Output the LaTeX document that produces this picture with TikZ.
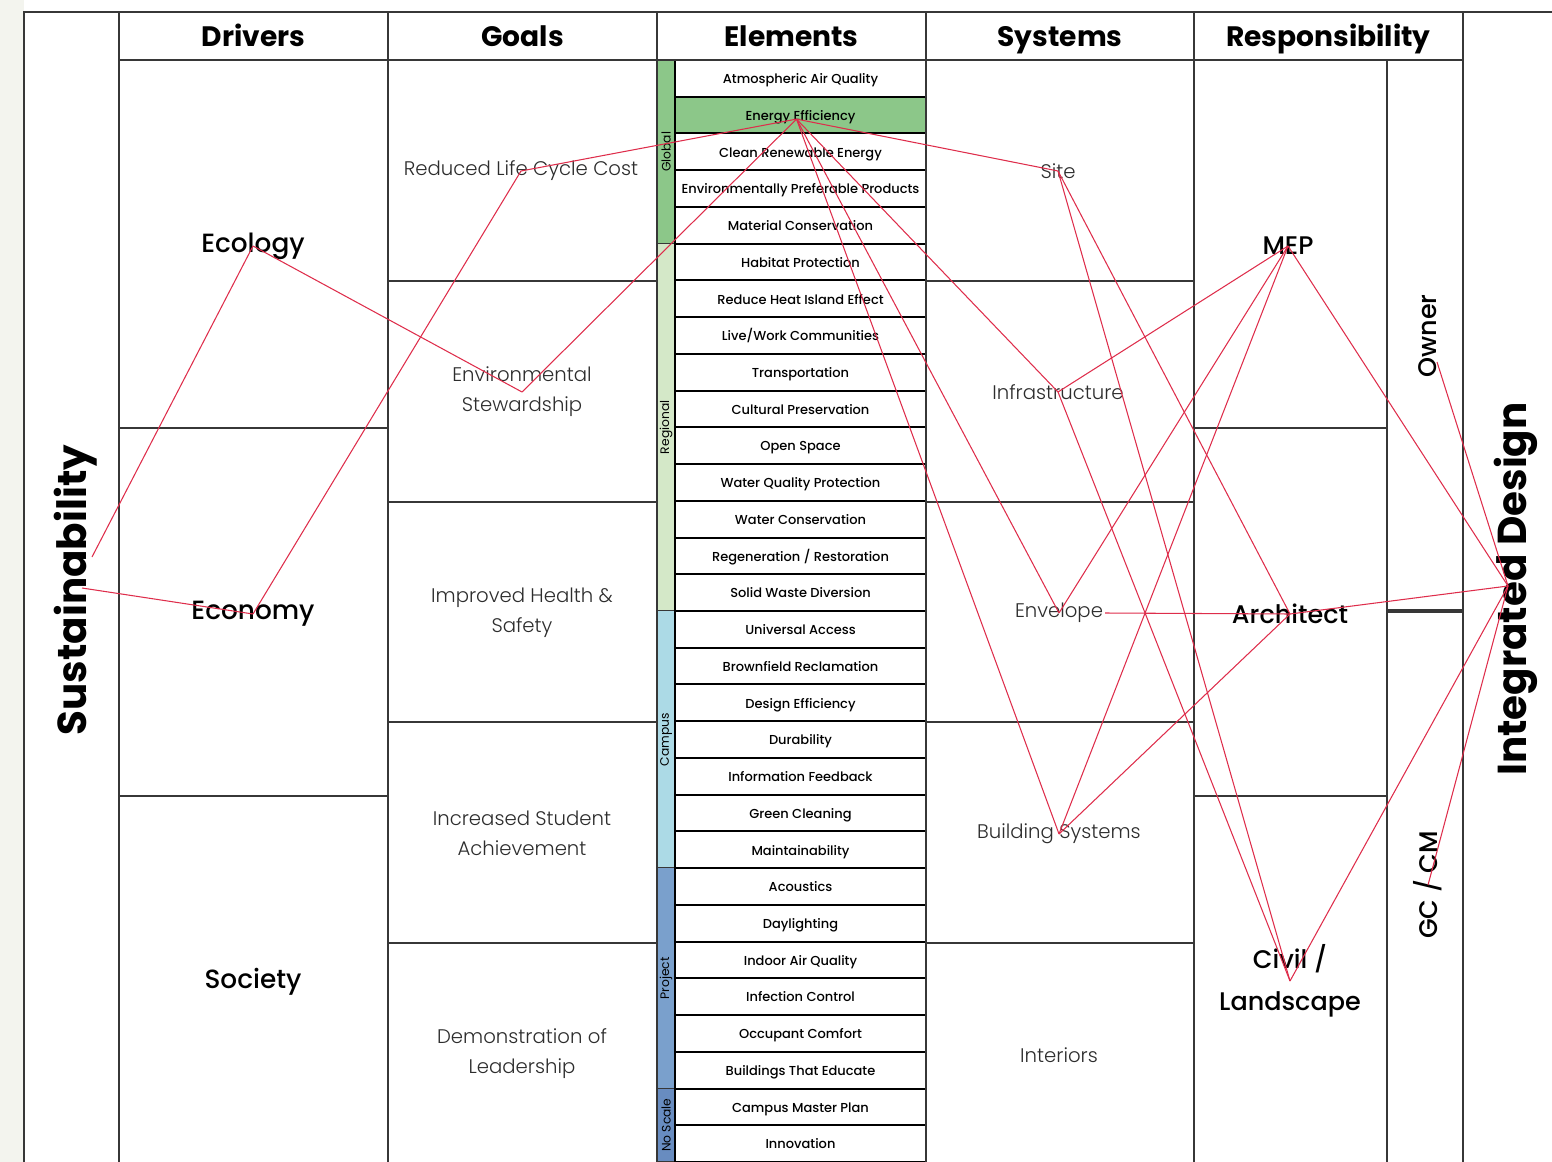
\documentclass[tikz,border=0pt]{standalone}
\usepackage{fontspec}
\setmainfont{Poppins}
\newfontfamily\lightfont{Poppins Light}
\newfontfamily\medfont{Poppins Medium}
\usetikzlibrary{calc}
\definecolor{linkred}{RGB}{222,45,75}
\definecolor{scaleglobal}{RGB}{140,199,137}
\definecolor{scaleregional}{RGB}{212,232,200}
\definecolor{scalecampus}{RGB}{172,218,230}
\definecolor{scaleproject}{RGB}{122,160,204}
\definecolor{scalenone}{RGB}{104,140,192}
\definecolor{gridgray}{RGB}{55,55,55}
\definecolor{margin}{RGB}{243,244,238}
\definecolor{softtext}{RGB}{45,45,45}

\begin{document}
\begin{tikzpicture}[x=0.02cm, y=-0.02cm,
    frame/.style={draw=gridgray, line width=0.9pt},
    header/.style={font=\fontsize{16}{18}\selectfont\bfseries, inner sep=0pt, anchor=base},
    driver/.style={font=\medfont\fontsize{15}{18}\selectfont, inner sep=1pt},
    goal/.style={font=\lightfont\fontsize{11.2}{17}\selectfont, align=center, text=softtext, inner sep=1pt},
    role/.style={font=\medfont\fontsize{14.5}{24}\selectfont, align=center, inner sep=1pt},
    cell/.style={draw, line width=1.1pt, minimum width=5.02cm, minimum height=0.7346cm, inner sep=0pt,
      text height=1.55ex, text depth=0.45ex, font=\medfont\fontsize{7.4}{9}\selectfont},
    band/.style={rotate=90, font=\fontsize{7}{8}\selectfont, inner sep=0pt},
    title/.style={rotate=90, font=\fontsize{23}{26}\selectfont\bfseries, inner sep=0pt},
    link/.style={linkred, line width=0.6pt}]

  \useasboundingbox (0,0) rectangle (1552,1162);
  \fill[margin] (0,0) rectangle (24,1162);

  % Scale bands beside the elements
  \foreach \c/\a/\b/\t/\n in {scaleglobal/0/5/Global/bGlobal, scaleregional/5/15/Regional/bRegional,
      scalecampus/15/22/Campus/bCampus, scaleproject/22/28/Project/bProject, scalenone/28/30/No Scale/bNone}{
    \fill[\c] (657,{60+36.733*\a}) rectangle (675,{60+36.733*\b});
    \draw[frame] (657,{60+36.733*\b}) -- (675,{60+36.733*\b});
    \node[band] (\n) at (666,{60+36.733*(\a+\b)/2}) {\t};
  }

  % Element cells (Energy Efficiency highlighted)
  \fill[scaleglobal] (675,96.7) rectangle (926,133.5);
  \foreach \t [count=\i from 0] in {Atmospheric Air Quality, Energy Efficiency, Clean Renewable Energy,
      Environmentally Preferable Products, Material Conservation, Habitat Protection,
      Reduce Heat Island Effect, Live/Work Communities, Transportation, Cultural Preservation,
      Open Space, Water Quality Protection, Water Conservation, Regeneration / Restoration,
      Solid Waste Diversion, Universal Access, Brownfield Reclamation, Design Efficiency,
      Durability, Information Feedback, Green Cleaning, Maintainability, Acoustics, Daylighting,
      Indoor Air Quality, Infection Control, Occupant Comfort, Buildings That Educate,
      Campus Master Plan, Innovation}{
    \node[cell] (el\i) at (800.5,{60+36.733*(\i+0.5)}) {\t};
  }

  % Grid
  \draw[frame] (24,1162) -- (24,12) -- (1552,12);
  \foreach \x in {119,388,657,926,1194,1463}
    \draw[frame] (\x,12) -- (\x,1162);
  \draw[frame] (119,60) -- (1463,60);
  \draw[frame] (1387,60) -- (1387,1162);
  \foreach \y in {428,796}{
    \draw[frame] (119,\y) -- (388,\y);
    \draw[frame] (1194,\y) -- (1387,\y);
  }
  \foreach \y in {281,502,722,943}{
    \draw[frame] (388,\y) -- (657,\y);
    \draw[frame] (926,\y) -- (1194,\y);
  }
  \draw[frame, line width=1.8pt] (1387,611) -- (1463,611);

  % Headers
  \foreach \t/\x/\n in {Drivers/253.5/hDrivers, Goals/522.5/hGoals, Elements/791.5/hElements,
      Systems/1060/hSystems, Responsibility/1328.5/hResp}
    \node[header] (\n) at (\x,47) {\t};

  % Side titles
  \node[title] (sus) at (76,590) {Sustainability};
  \node[title] (intd) at (1516,589) {Integrated Design};

  % Drivers
  \node[driver] (eco) at (253,246) {Ecology};
  \node[driver] (econ) at (253,614) {Economy};
  \node[driver] (soc) at (253,982) {Society};

  % Goals
  \node[goal] (gLcc) at (521,171) {Reduced Life Cycle Cost};
  \node[goal] (gEnv) at (522,392) {Environmental\\Stewardship};
  \node[goal] (gHealth) at (522,613) {Improved Health \&\\Safety};
  \node[goal] (gStudent) at (522,833) {Increased Student\\Achievement};
  \node[goal] (gLead) at (522,1054) {Demonstration of\\Leadership};

  % Systems
  \node[goal] (sSite) at (1058,171) {Site};
  \node[goal] (sInfra) at (1058,392) {Infrastructure};
  \node[goal] (sEnvl) at (1059,613) {Envelope};
  \node[goal] (sBldg) at (1059,834) {Building Systems};
  \node[goal] (sInt) at (1059,1055) {Interiors};

  % Responsibility
  \node[role] (rMep) at (1288,246) {MEP};
  \node[role] (rArch) at (1290,614) {Architect};
  \node[role] (rCivil) at (1290,981) {Civil /\\Landscape};
  \node[role, rotate=90] (rOwner) at (1428,336) {Owner};
  \node[role, rotate=90] (rGc) at (1428,885) {GC / CM};

  % Link ends off the node centres
  \coordinate (sus1) at ($(sus.center)+(16,-33)$);
  \coordinate (sus2) at ($(sus.center)+(6,-2)$);
  \coordinate (hub) at ($(el1.center)+(-4,4)$);
  \coordinate (envR) at (sEnvl.east);
  \coordinate (own1) at ($(rOwner.center)+(9,26)$);
  \coordinate (idp) at ($(intd.center)+(-8,-3)$);

  % Red links
  \foreach \a/\b in {sus1/eco, sus2/econ, eco/gEnv, econ/gLcc, gLcc/hub, gEnv/hub,
      hub/sSite, hub/sInfra, hub/sEnvl, hub/sBldg, sSite/rArch, sSite/rCivil,
      sInfra/rMep, sInfra/rCivil, sEnvl/rMep, envR/rArch, sBldg/rMep, sBldg/rArch,
      rMep/idp, rArch/idp, rCivil/idp, own1/idp, rGc/idp}
    \draw[link] (\a.center) -- (\b.center);
\end{tikzpicture}
\end{document}
